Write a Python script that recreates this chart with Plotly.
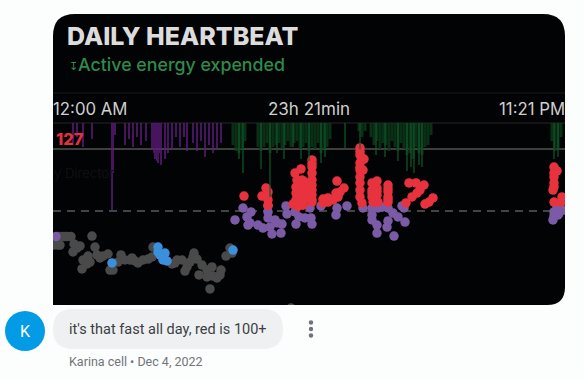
import plotly.graph_objects as go

W, H = 584, 380
# x = sample slot across the day (0 = 12:00 AM, 512 = 11:21 PM), y = bpm
grey_x = [5,8,11,14,18,1,5,7,39,21,27,24,20,42,44,47,50,55,35,30,37,34,29,57,60,68,65,72,79,77,85,82,90,95,99,100,119,124,129,122,141,140,144,137,134,132,149,146,154,159,154,160,164,168,167,157,173,177,179,238]
grey_y = [88.9,88.9,88.9,88.9,88.9,85.2,85.2,85.2,89.1,85.7,84.8,83.9,82.2,84.3,80.9,79.6,80.4,81.3,80.4,78.7,77.8,77,74.8,74.3,74.3,80.9,77.8,78.7,79.6,78.7,77.4,78.3,78.7,79.1,80,84.3,77,78.7,78.7,77.4,81.7,80,79.1,77.8,75.7,73.9,76.5,72.2,71.3,75.7,74.3,71.7,70.9,74.3,72.2,66.1,80.4,83.9,81.7,57.8]
blue_x = [59,105,105,112,107,110,114,180]
blue_y = [77.4,84.3,82.2,81.7,80.9,78.7,78.3,83]
purple_x = [3,190,182,198,194,197,195,205,210,215,215,215,217,222,224,229,219,228,233,234,242,246,243,252,258,257,259,268,284,283,294,310,319,319,319,329,324,324,335,334,335,340,345,349,351,352,341,325,501,500,505,510,504,501,506]
purple_y = [88.9,101.3,96.1,99.6,97.4,94.8,93.9,93.9,92.6,102.2,99.6,97,93,96.1,94.8,94.3,90,90.4,102.2,98.7,99.6,97.4,94.3,97,97,101.3,94.3,102.2,101.3,98.3,102.2,101.3,101.3,98.3,96.1,101.7,93.9,90.4,95.7,93,101.3,99.1,97.4,102.2,101.3,95.2,89.1,101.3,99.6,96.1,98.3,100.4,101.7,97.8,99]
red_x = [191,209,213,215,214,215,215,242,248,244,252,243,247,252,243,248,243,247,252,240,250,245,249,245,250,259,259,259,259,259,259,259,259,259,259,270,270,275,280,284,283,287,291,285,275,307,307,311,307,307,310,307,307,307,307,309,307,307,319,324,319,324,319,324,320,325,319,324,335,335,335,335,335,335,356,363,371,367,364,359,353,380,376,372,501,504,501,501,500,501,509,508,501,501]
red_y = [106.5,106.5,110,108.3,106.1,104.8,102.5,116.5,118.3,113.5,112.6,110.4,111.3,109.1,107.8,108.3,104.8,105.7,105.7,103,103.5,106.5,113.5,102,102.5,122.2,119.1,116.5,113.5,111.3,109.1,107,105,103.9,120.5,105.2,103.5,103.9,104.8,113,107.8,108.3,110,106.1,105.7,127.4,124.3,122.6,120.9,117.8,117.8,114.8,112.2,109.1,106.1,103.5,125.8,119,112.2,113,109.1,110,106.1,107,103.9,103.9,107.8,108.6,111.3,108.3,106.1,103.9,109.7,105,112.2,112.2,111.3,109.1,107.8,106.1,103.5,105.7,103.9,103,119.1,117.4,114.8,112.2,109.1,103.9,106.1,103.9,116.5,110.5]
# hanging energy stripes (length, from the top rule)
energy_purple_x = [20,24,30,39,59,60,62,72,76,80,84,88,93,99,100,101,102,103,104,105,106,108,112,115,119,123,127,131,134,140,144,148,152,156,160,164,168]
energy_purple_v = [20,14,24,16,87,50,12,22,16,24,14,22,18,26,24,30,36,24,38,40,30,42,36,30,26,14,24,14,28,20,28,18,34,22,30,26,20]
energy_green_base_x = [180,183,186,189,192,205,208,211,214,217,220,223,226,229,232,235,238,241,244,247,250,253,256,259,262,265,268,271,274,277,306,309,312,318,321,324,327,330,333,336,339,342,345,348,351,354,357,360,363,366,369,372,375,378,499,502,505,508]
energy_green_base_v = [22,28,30,26,18,24,28,24,20,30,24,22,20,26,22,18,24,20,18,26,24,20,28,24,26,20,30,26,24,16,8,14,8,14,22,18,26,20,22,28,18,24,28,20,26,32,30,36,24,30,32,24,22,12,18,28,26,14]
energy_green_x = [186,190,208,217,224,231,240,248,256,268,272,292,307,323,332,345,354,358,361,366,369,501,505]
energy_green_v = [36,50,46,74,30,36,24,36,38,40,34,26,26,32,34,38,48,44,50,42,44,36,34]
top_labels = ["12:00 AM", "23h 21min", "11:21 PM"]

def px(x): return x / W
def py(y): return 1 - y / H

def rrect(x0, y0, x1, y1, tl, tr, br, bl):
    return (f"M{px(x0+tl)},{py(y0)} L{px(x1-tr)},{py(y0)} Q{px(x1)},{py(y0)} {px(x1)},{py(y0+tr)} "
            f"L{px(x1)},{py(y1-br)} Q{px(x1)},{py(y1)} {px(x1-br)},{py(y1)} L{px(x0+bl)},{py(y1)} "
            f"Q{px(x0)},{py(y1)} {px(x0)},{py(y1-bl)} L{px(x0)},{py(y0+tl)} Q{px(x0)},{py(y0)} {px(x0+tl)},{py(y0)} Z")

def dot(cx, cy, r, color):
    return dict(type="circle", xref="paper", yref="paper", x0=px(cx-r), x1=px(cx+r), y0=py(cy+r), y1=py(cy-r),
                fillcolor=color, line_width=0, layer="below")

def hline(y, color, dash="solid", width=1):
    return dict(type="line", xref="paper", yref="paper", x0=px(53), x1=px(565), y0=py(y), y1=py(y),
                line=dict(color=color, width=width, dash=dash), layer="below")

fig = go.Figure()
fig.add_bar(x=energy_purple_x, y=energy_purple_v, width=1.1, marker=dict(color="#5f1c7c", line_width=0), yaxis="y2", opacity=0.75)
fig.add_bar(x=energy_green_base_x, y=energy_green_base_v, width=3.1, marker=dict(color="#0b3a1b", line_width=0), yaxis="y2", opacity=0.8)
fig.add_bar(x=energy_green_x, y=energy_green_v, width=1, marker=dict(color="#0e5a2a", line_width=0), yaxis="y2", opacity=0.6)
marker = lambda c, s=9.5: dict(color=c, size=s, line_width=0)
fig.add_scatter(x=grey_x, y=grey_y, mode="markers", marker=marker("#4a4a4a"))
fig.add_scatter(x=purple_x, y=purple_y, mode="markers", marker=marker("#7b5aa6"))
fig.add_scatter(x=blue_x, y=blue_y, mode="markers", marker=marker("#3a90dc"))
fig.add_scatter(x=red_x, y=red_y, mode="markers", marker=marker("#e8333e"))

def note(x, y, text, size, color, anchor="left", family="Roboto", weight=None):
    fig.add_annotation(xref="paper", yref="paper", x=px(x), y=py(y), text=text, showarrow=False, xanchor=anchor,
                       yanchor="middle", align="left", borderpad=0,
                       font=dict(size=size, color=color, family=family, weight=weight))

note(66, 36, "DAILY HEARTBEAT", 25, "#dcdcdc", family="Inter", weight=800)
note(68, 66, "↧", 11, "#2f8a4e", family="DejaVu Sans")
note(77, 65, "Active energy expended", 17.8, "#2f8a4e", family="Inter", weight=500)
note(52, 109, top_labels[0], 16.8, "#cfcfcf", family="Inter")
note(309, 109, top_labels[1], 17, "#cfcfcf", "center", family="Inter")
note(566, 109, top_labels[2], 16.8, "#cfcfcf", "right", family="Inter")
note(55, 139, "127", 16.5, "#e0323c", family="Inter", weight=800)
note(53, 173, "y Director", 13, "#101010", family="Inter")
note(68, 329, "it's that fast all day, red is 100+", 14.5, "#3c4043")
note(68, 361, "Karina cell • Dec 4, 2022", 12.5, "#70757a")
note(25, 331, "K", 16, "#ffffff", "center")

fig.update_layout(
    width=W, height=H, margin=dict(l=0, r=0, t=0, b=0), autosize=False,
    paper_bgcolor="#fcfdfd", plot_bgcolor="rgba(0,0,0,0)", showlegend=False, barmode="overlay",
    xaxis=dict(domain=[px(53), px(565)], range=[0, 512], visible=False),
    yaxis=dict(domain=[py(305), py(123)], range=[59.13, 138.26], visible=False),
    yaxis2=dict(domain=[py(305), py(123)], range=[182, 0], visible=False, overlaying="y", anchor="x"),
    shapes=[
        dict(type="path", xref="paper", yref="paper", path=rrect(53, 14, 565, 305, 22, 22, 18, 0),
             fillcolor="#020304", line_width=0, layer="below"),
        hline(93, "#1a1a1a"), hline(123, "#262626"), hline(149, "#7a7a7a", width=1.2),
        hline(211, "#5a5a62", dash="8px,6px", width=1.3),
        dict(type="path", xref="paper", yref="paper", path=rrect(53, 309, 283, 349, 20, 20, 20, 20),
             fillcolor="#eef0f2", line_width=0, layer="below"),
        dot(25, 331, 20, "#039be5"),
        dot(311, 322.5, 2.2, "#6f7377"), dot(311, 329, 2.2, "#6f7377"), dot(311, 335.5, 2.2, "#6f7377"),
    ],
)
fig.write_html("out.html", config={"displayModeBar": False},
               post_script="document.body.style.margin='0';document.body.style.overflow='hidden';")
